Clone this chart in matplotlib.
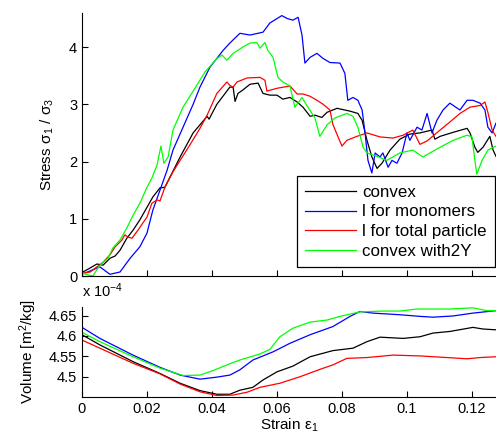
import numpy as np
import matplotlib
matplotlib.use('Agg')
import matplotlib.pyplot as plt

plt.rcParams['font.family'] = ['Liberation Sans', 'DejaVu Sans']
plt.rcParams['mathtext.fontset'] = 'custom'
plt.rcParams['mathtext.rm'] = 'Liberation Sans'
plt.rcParams['mathtext.it'] = 'Liberation Sans'

# stress ratio sigma1/sigma3 vs strain
convex_x = [0.0003, 0.0025, 0.0046, 0.0065, 0.0086, 0.0102, 0.0117, 0.0138, 0.0157, 0.0178, 0.0200,
            0.0218, 0.0240, 0.0255, 0.0271, 0.0302, 0.0342, 0.0385, 0.0391, 0.0415, 0.0455, 0.0465,
            0.0471, 0.0480, 0.0495, 0.0517, 0.0542, 0.0557, 0.0578, 0.0600, 0.0618, 0.0640, 0.0662,
            0.0680, 0.0702, 0.0717, 0.0738, 0.0754, 0.0785, 0.0825, 0.0849, 0.0862, 0.0877, 0.0892,
            0.0908, 0.0923, 0.0948, 0.0978, 0.1009, 0.1040, 0.1077, 0.1086, 0.1102, 0.1142, 0.1185,
            0.1194, 0.1209, 0.1218, 0.1234, 0.1255, 0.1265, 0.1274]
convex_y = [0.07, 0.14, 0.21, 0.19, 0.31, 0.35, 0.45, 0.66, 0.80, 0.98, 1.20,
            1.38, 1.54, 1.55, 1.73, 2.08, 2.50, 2.79, 2.74, 3.00, 3.30, 3.30,
            3.05, 3.19, 3.25, 3.35, 3.37, 3.19, 3.16, 3.16, 3.09, 3.12, 3.04,
            2.95, 2.79, 2.81, 2.77, 2.86, 2.93, 2.88, 2.84, 2.72, 2.37, 2.08,
            1.88, 1.97, 2.20, 2.39, 2.48, 2.50, 2.55, 2.39, 2.44, 2.51, 2.58,
            2.50, 2.25, 2.16, 2.25, 2.44, 2.20, 2.09]

mono_x = [0.0000, 0.0055, 0.0086, 0.0117, 0.0148, 0.0178, 0.0200, 0.0218, 0.0240, 0.0262, 0.0280,
          0.0311, 0.0342, 0.0363, 0.0394, 0.0434, 0.0455, 0.0486, 0.0517, 0.0557, 0.0578, 0.0615,
          0.0631, 0.0649, 0.0665, 0.0677, 0.0686, 0.0702, 0.0723, 0.0742, 0.0763, 0.0794, 0.0809,
          0.0818, 0.0834, 0.0849, 0.0862, 0.0871, 0.0880, 0.0892, 0.0902, 0.0917, 0.0926, 0.0942,
          0.0954, 0.0969, 0.0985, 0.1000, 0.1009, 0.1031, 0.1046, 0.1062, 0.1077, 0.1092, 0.1111,
          0.1132, 0.1163, 0.1185, 0.1203, 0.1225, 0.1240, 0.1249, 0.1262, 0.1274]
mono_y = [0.03, 0.16, 0.03, 0.07, 0.31, 0.51, 0.75, 1.15, 1.50, 1.85, 2.20,
          2.60, 3.00, 3.30, 3.65, 3.94, 4.07, 4.24, 4.21, 4.26, 4.42, 4.55,
          4.50, 4.47, 4.52, 4.21, 3.72, 3.82, 3.89, 3.80, 3.73, 3.72, 3.54,
          3.07, 3.12, 3.07, 2.90, 2.50, 2.02, 1.80, 2.15, 2.08, 2.15, 1.90,
          2.02, 1.97, 2.15, 2.50, 2.37, 2.60, 2.55, 2.84, 2.50, 2.72, 2.90,
          3.02, 2.90, 3.07, 3.07, 3.02, 2.90, 2.60, 2.50, 2.67]

total_x = [0.0003, 0.0025, 0.0046, 0.0065, 0.0086, 0.0102, 0.0123, 0.0132, 0.0142, 0.0154, 0.0172,
           0.0200, 0.0215, 0.0231, 0.0240, 0.0255, 0.0280, 0.0302, 0.0332, 0.0363, 0.0385, 0.0415,
           0.0446, 0.0455, 0.0465, 0.0477, 0.0508, 0.0548, 0.0563, 0.0569, 0.0600, 0.0640, 0.0662,
           0.0680, 0.0702, 0.0723, 0.0742, 0.0763, 0.0772, 0.0788, 0.0800, 0.0815, 0.0846, 0.0877,
           0.0917, 0.0957, 0.0988, 0.1018, 0.1040, 0.1062, 0.1102, 0.1132, 0.1163, 0.1194, 0.1225,
           0.1240, 0.1249, 0.1262, 0.1274]
total_y = [0.05, 0.07, 0.16, 0.24, 0.37, 0.51, 0.63, 0.72, 0.68, 0.66, 0.80,
           1.03, 1.27, 1.33, 1.31, 1.55, 1.82, 2.02, 2.29, 2.58, 2.81, 3.19,
           3.39, 3.33, 3.30, 3.39, 3.46, 3.47, 3.42, 3.23, 3.28, 3.32, 3.18,
           3.18, 3.14, 3.07, 3.00, 2.90, 2.65, 2.43, 2.27, 2.37, 2.44, 2.50,
           2.43, 2.41, 2.46, 2.55, 2.30, 2.36, 2.55, 2.69, 2.84, 2.95, 2.98,
           3.04, 2.86, 2.55, 2.44]

c2y_x = [0.0003, 0.0018, 0.0034, 0.0049, 0.0065, 0.0080, 0.0095, 0.0117, 0.0138, 0.0157, 0.0178,
         0.0200, 0.0215, 0.0231, 0.0243, 0.0252, 0.0265, 0.0280, 0.0311, 0.0342, 0.0378, 0.0415,
         0.0431, 0.0446, 0.0465, 0.0495, 0.0517, 0.0538, 0.0548, 0.0563, 0.0572, 0.0588, 0.0603,
         0.0618, 0.0640, 0.0655, 0.0677, 0.0695, 0.0717, 0.0732, 0.0754, 0.0778, 0.0815, 0.0834,
         0.0849, 0.0865, 0.0877, 0.0908, 0.0938, 0.0978, 0.1018, 0.1049, 0.1102, 0.1142, 0.1185,
         0.1200, 0.1209, 0.1215, 0.1231, 0.1249, 0.1274]
c2y_y = [0.05, 0.02, 0.00, 0.14, 0.24, 0.31, 0.49, 0.63, 0.84, 1.06, 1.27,
         1.55, 1.71, 1.94, 2.27, 1.97, 2.08, 2.55, 2.95, 3.23, 3.56, 3.80,
         3.86, 3.77, 3.89, 4.00, 4.07, 4.08, 3.98, 4.08, 3.94, 3.82, 3.47,
         3.39, 3.32, 2.95, 3.12, 2.95, 2.76, 2.44, 2.64, 2.76, 2.84, 2.79,
         2.60, 2.25, 2.15, 2.09, 2.02, 2.15, 2.20, 2.08, 2.25, 2.37, 2.46,
         2.43, 2.02, 1.78, 2.02, 2.20, 2.27]

# specific volume (x 1e-4 m^2/kg) vs strain
vconvex_x = [0.0, 0.0055, 0.0157, 0.0240, 0.0302, 0.0363, 0.0415, 0.0455, 0.0486, 0.0526, 0.0557,
             0.0600, 0.0649, 0.0702, 0.0772, 0.0834, 0.0877, 0.0917, 0.0988, 0.1040, 0.1080, 0.1132,
             0.1203, 0.1234, 0.1274]
vconvex_y = [4.603, 4.578, 4.537, 4.508, 4.484, 4.466, 4.457, 4.457, 4.467, 4.474, 4.492,
             4.512, 4.526, 4.549, 4.564, 4.570, 4.586, 4.597, 4.594, 4.598, 4.607, 4.611,
             4.621, 4.617, 4.615]

vmono_x = [0.0, 0.0055, 0.0157, 0.0240, 0.0302, 0.0363, 0.0415, 0.0455, 0.0486, 0.0526, 0.0588,
           0.0640, 0.0702, 0.0772, 0.0825, 0.0855, 0.0895, 0.0978, 0.1040, 0.1080, 0.1142, 0.1203,
           0.1274]
vmono_y = [4.621, 4.594, 4.553, 4.523, 4.504, 4.494, 4.499, 4.504, 4.517, 4.541, 4.561,
           4.582, 4.603, 4.623, 4.648, 4.660, 4.656, 4.652, 4.648, 4.646, 4.649, 4.656,
           4.662]

vtotal_x = [0.0, 0.0055, 0.0157, 0.0240, 0.0302, 0.0363, 0.0415, 0.0465, 0.0508, 0.0548, 0.0609,
            0.0671, 0.0732, 0.0772, 0.0815, 0.0877, 0.0957, 0.1040, 0.1123, 0.1185, 0.1225, 0.1274]
vtotal_y = [4.590, 4.570, 4.533, 4.507, 4.482, 4.463, 4.454, 4.455, 4.462, 4.474, 4.484,
            4.500, 4.518, 4.529, 4.545, 4.547, 4.553, 4.551, 4.547, 4.544, 4.547, 4.549]

vc2y_x = [0.0, 0.0055, 0.0157, 0.0240, 0.0311, 0.0363, 0.0403, 0.0446, 0.0486, 0.0548, 0.0578,
          0.0609, 0.0649, 0.0702, 0.0754, 0.0794, 0.0855, 0.0926, 0.0978, 0.1031, 0.1132, 0.1203,
          0.1246, 0.1274]
vc2y_y = [4.609, 4.586, 4.549, 4.521, 4.503, 4.504, 4.515, 4.529, 4.541, 4.556, 4.567,
          4.598, 4.619, 4.634, 4.639, 4.648, 4.659, 4.661, 4.661, 4.666, 4.666, 4.669,
          4.662, 4.662]

labels = ['convex', 'l for monomers', 'l for total particle', 'convex with2Y']
colors = ['k', 'b', 'r', (0, 1, 0)]

fig = plt.figure(figsize=(4.96, 4.40), dpi=100)
ax1 = fig.add_axes([0.1653, 0.3727, 0.8347, 0.5984])
ax2 = fig.add_axes([0.1653, 0.0984, 0.8347, 0.2039])

stress = [(convex_x, convex_y), (mono_x, mono_y), (total_x, total_y), (c2y_x, c2y_y)]
volume = [(vconvex_x, vconvex_y), (vmono_x, vmono_y), (vtotal_x, vtotal_y), (vc2y_x, vc2y_y)]

for (x, y), col, lab in zip(stress, colors, labels):
    ax1.plot(x, y, color=col, lw=0.9, label=lab)
for (x, y), col in zip(volume, colors):
    ax2.plot(x, y, color=col, lw=0.9)

xt = [0, 0.02, 0.04, 0.06, 0.08, 0.1, 0.12]
for ax in (ax1, ax2):
    ax.set_xlim(0, 0.1274)
    ax.spines['top'].set_visible(False)
    ax.spines['right'].set_visible(False)
    ax.tick_params(direction='in', length=4, labelsize=10.5, width=0.8)
    ax.set_xticks(xt)

ax1.set_ylim(0, 4.6)
ax1.set_yticks([0, 1, 2, 3, 4])
ax1.set_xticklabels([])
ax1.set_ylabel('Stress σ$_1$ / σ$_3$', fontsize=11, labelpad=9)
leg = ax1.legend(loc='lower right', bbox_to_anchor=(0.998, 0.034), borderaxespad=0,
                 fontsize=12.2, fancybox=False, framealpha=1, edgecolor='k',
                 handlelength=3.0, handletextpad=0.35, labelspacing=0.27, borderpad=0.5)
leg.get_frame().set_linewidth(0.9)

ax2.set_ylim(4.451, 4.671)
ax2.set_yticks([4.5, 4.55, 4.6, 4.65])
ax2.set_yticklabels(['4.5', '4.55', '4.6', '4.65'])
ax2.set_xticklabels(['0', '0.02', '0.04', '0.06', '0.08', '0.1', '0.12'])
ax2.set_xlabel('Strain ε$_1$', fontsize=11, labelpad=1)
ax2.set_ylabel('Volume [m$^2$/kg]', fontsize=11, labelpad=7)
ax2.text(0, 1.08, 'x 10$^{-4}$', transform=ax2.transAxes, fontsize=10.5, ha='left', va='bottom')

fig.savefig('out.png', dpi=100)
